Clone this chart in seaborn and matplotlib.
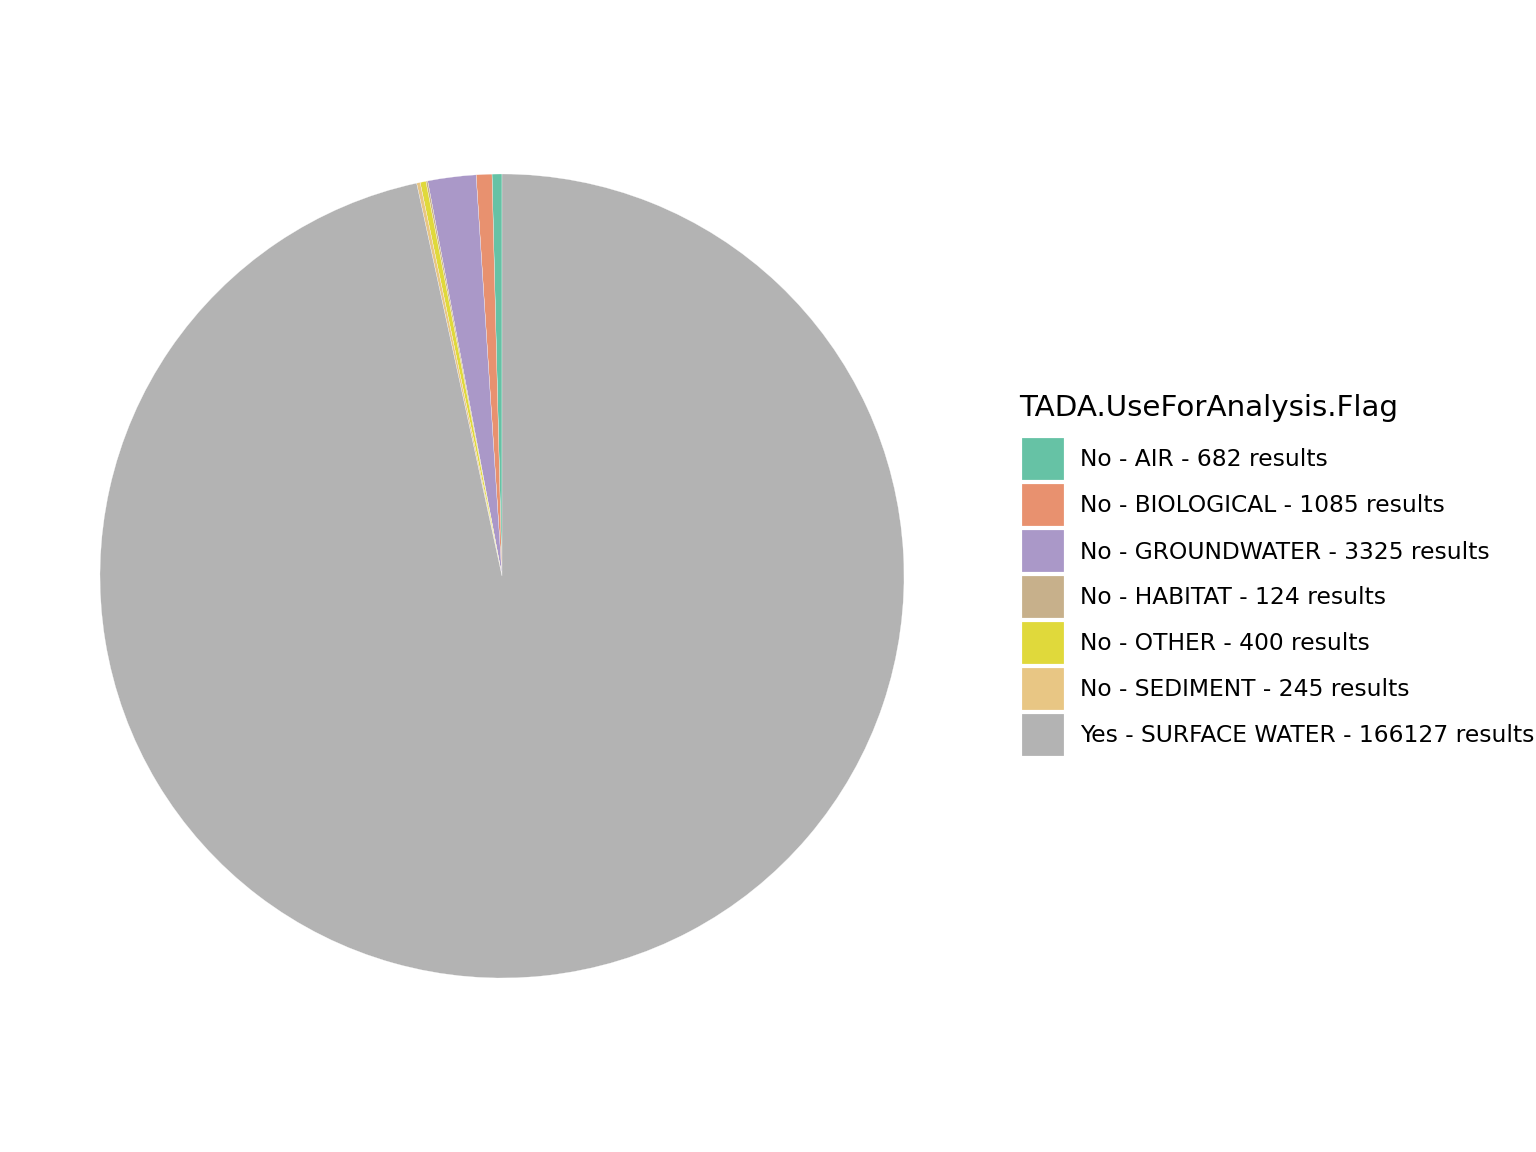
import matplotlib
matplotlib.use("Agg")
import matplotlib.pyplot as plt
import seaborn as sns
from matplotlib.patches import Rectangle

categories = ['No - AIR', 'No - BIOLOGICAL', 'No - GROUNDWATER', 'No - HABITAT',
              'No - OTHER', 'No - SEDIMENT', 'Yes - SURFACE WATER']
counts = [682, 1085, 3325, 124, 400, 245, 166127]
colors = ['#66C2A5', '#E8916F', '#AA98C8', '#C7B08B', '#E0D93B', '#E8C684', '#B3B3B3']

labels = [f"{c} - {n} results" for c, n in zip(categories, counts)]

sns.set_theme(style="white")
plt.rcParams['font.family'] = ['DejaVu Sans']

W, H = 1536, 1152
fig = plt.figure(figsize=(8, 6), dpi=192)
ax = fig.add_axes([100 / W, 174 / H, 804 / W, 804 / H])
palette = sns.color_palette(colors)

ax.pie(counts, colors=palette, startangle=90, counterclock=True, radius=1,
       wedgeprops=dict(edgecolor='white', linewidth=0.1))
ax.set_xlim(-1, 1)
ax.set_ylim(-1, 1)
ax.set_aspect('equal')
ax.axis('off')

# legend, laid out like ggplot's (pixel positions converted to figure coords)
fig.text(1019 / W, 1 - 408 / H, 'TADA.UseForAnalysis.Flag', fontsize=11,
         color='black', ha='left', va='center')
for i, (col, lab) in enumerate(zip(palette, labels)):
    top = 436 + 46 * i
    fig.patches.append(Rectangle((1020 / W, 1 - (top + 45) / H), 45 / W, 45 / H,
                                 transform=fig.transFigure, facecolor=col,
                                 edgecolor='white', linewidth=1.2))
    fig.text(1080 / W, 1 - (top + 24) / H, lab, fontsize=8.75, color='black',
             ha='left', va='center')

fig.savefig('out.png', dpi=192)
